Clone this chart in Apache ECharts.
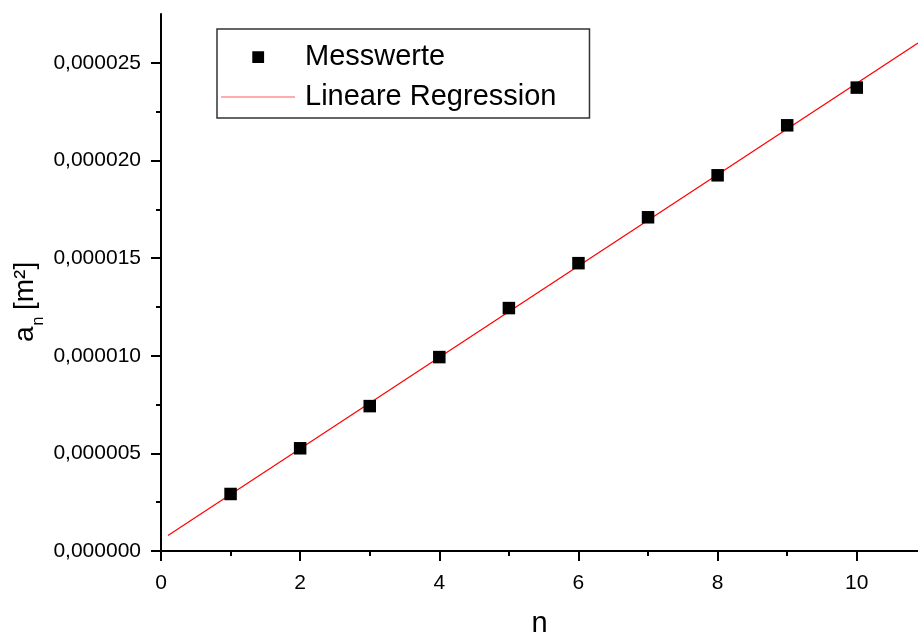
<!DOCTYPE html>
<html><head><meta charset="utf-8">
<script src="https://cdn.jsdelivr.net/npm/echarts@6/dist/echarts.min.js"></script>
<style>html,body{margin:0;padding:0;background:#fff}#c{width:918px;height:633px}</style>
</head><body><div id="c"></div>
<script>
const nValues = [1, 2, 3, 4, 5, 6, 7, 8, 9, 10];
const anValues = [2.92e-6, 5.26e-6, 7.42e-6, 9.93e-6, 12.44e-6, 14.74e-6, 17.09e-6, 19.24e-6, 21.80e-6, 23.73e-6];
const regX = [0.1, 10.88];
const regY = [0.80e-6, 26.01e-6];
const yMajorTicks = [0, 5e-6, 10e-6, 15e-6, 20e-6, 25e-6];
const yMinorTicks = [2.5e-6, 7.5e-6, 12.5e-6, 17.5e-6, 22.5e-6];
const xMajorTicks = [0, 2, 4, 6, 8, 10];
const xMinorTicks = [1, 3, 5, 7, 9];

const FONT = "'Liberation Sans', Arial, sans-serif";
const chart = echarts.init(document.getElementById('c'), null, {renderer: 'canvas'});

const xMin = 0, xMax = 10.88, yMin = 0, yMax = 2.75e-5;

// legend icons: bounding points at the corners keep the glyph's place inside the 74x12 icon box
const squareIcon = 'path://M0,0L0.01,0M74,12L73.99,12M31,0.2h12.4v12.4h-12.4z';
const lineIcon = 'path://M0,0L0.01,0M74,12L73.99,12M0,5.4h74v1.2h-74z';

function vText(text, x, y, size) {
  return {
    type: 'text', x: x, y: y, rotation: Math.PI / 2,
    style: {text: text, align: 'left', verticalAlign: 'bottom', fill: '#000',
      font: size + 'px ' + FONT}
  };
}

chart.setOption({
  animation: false,
  backgroundColor: '#ffffff',
  grid: {left: 161, right: 0, top: 14, bottom: 82, containLabel: false, outerBoundsMode: 'none'},
  legend: {
    orient: 'vertical', left: 217, top: 29,
    padding: [13, 33, 6, 4],
    borderColor: '#333', borderWidth: 1.5,
    itemWidth: 74, itemHeight: 12, itemGap: 10,
    textStyle: {fontFamily: FONT, fontSize: 29, color: '#000', lineHeight: 30, padding: [0, 0, 0, 5]},
    data: [
      {name: 'Messwerte', icon: squareIcon, itemStyle: {color: '#000'}},
      {name: 'Lineare Regression', icon: lineIcon, itemStyle: {color: '#ff5a5a'}}
    ]
  },
  xAxis: [{
    type: 'value', min: xMin, max: xMax, position: 'bottom',
    axisLine: {show: true, onZero: false, lineStyle: {color: '#000', width: 2}},
    axisTick: {show: true, customValues: xMajorTicks, length: 10, lineStyle: {color: '#000', width: 2}},
    axisLabel: {customValues: xMajorTicks, fontFamily: FONT, fontSize: 21, color: '#000', margin: 22},
    splitLine: {show: false},
    name: 'n', nameLocation: 'middle', nameGap: 58,
    nameTextStyle: {fontFamily: FONT, fontSize: 29, color: '#000'}
  }, {
    type: 'value', min: xMin, max: xMax, position: 'bottom',
    axisLine: {show: false},
    axisTick: {show: true, customValues: xMinorTicks, length: 5, lineStyle: {color: '#000', width: 2}},
    axisLabel: {show: false},
    splitLine: {show: false}
  }],
  yAxis: [{
    type: 'value', min: yMin, max: yMax, position: 'left',
    axisLine: {show: true, onZero: false, lineStyle: {color: '#000', width: 2}},
    axisTick: {show: true, customValues: yMajorTicks, length: 10, lineStyle: {color: '#000', width: 2}},
    axisLabel: {customValues: yMajorTicks, fontFamily: FONT, fontSize: 21, color: '#000', margin: 20,
      formatter: v => v.toFixed(6).replace('.', ',')},
    splitLine: {show: false}
  }, {
    type: 'value', min: yMin, max: yMax, position: 'left',
    axisLine: {show: false},
    axisTick: {show: true, customValues: yMinorTicks, length: 5, lineStyle: {color: '#000', width: 2}},
    axisLabel: {show: false},
    splitLine: {show: false}
  }],
  graphic: [
    vText('a', 39.5, 342, 28),
    vText('n', 46.5, 325.5, 16),
    vText('[m²]', 39.5, 310, 28)
  ],
  series: [{
    name: 'Lineare Regression', type: 'line', xAxisIndex: 0, yAxisIndex: 0,
    data: regX.map((x, i) => [x, regY[i]]),
    symbol: 'none', lineStyle: {color: '#ff0000', width: 1.2}, itemStyle: {color: '#ff0000'},
    z: 2
  }, {
    name: 'Messwerte', type: 'scatter', xAxisIndex: 0, yAxisIndex: 0,
    data: nValues.map((n, i) => [n, anValues[i]]),
    symbol: 'rect', symbolSize: 12.5,
    itemStyle: {color: '#000', opacity: 1},
    z: 3
  }]
});
</script>
</body></html>
